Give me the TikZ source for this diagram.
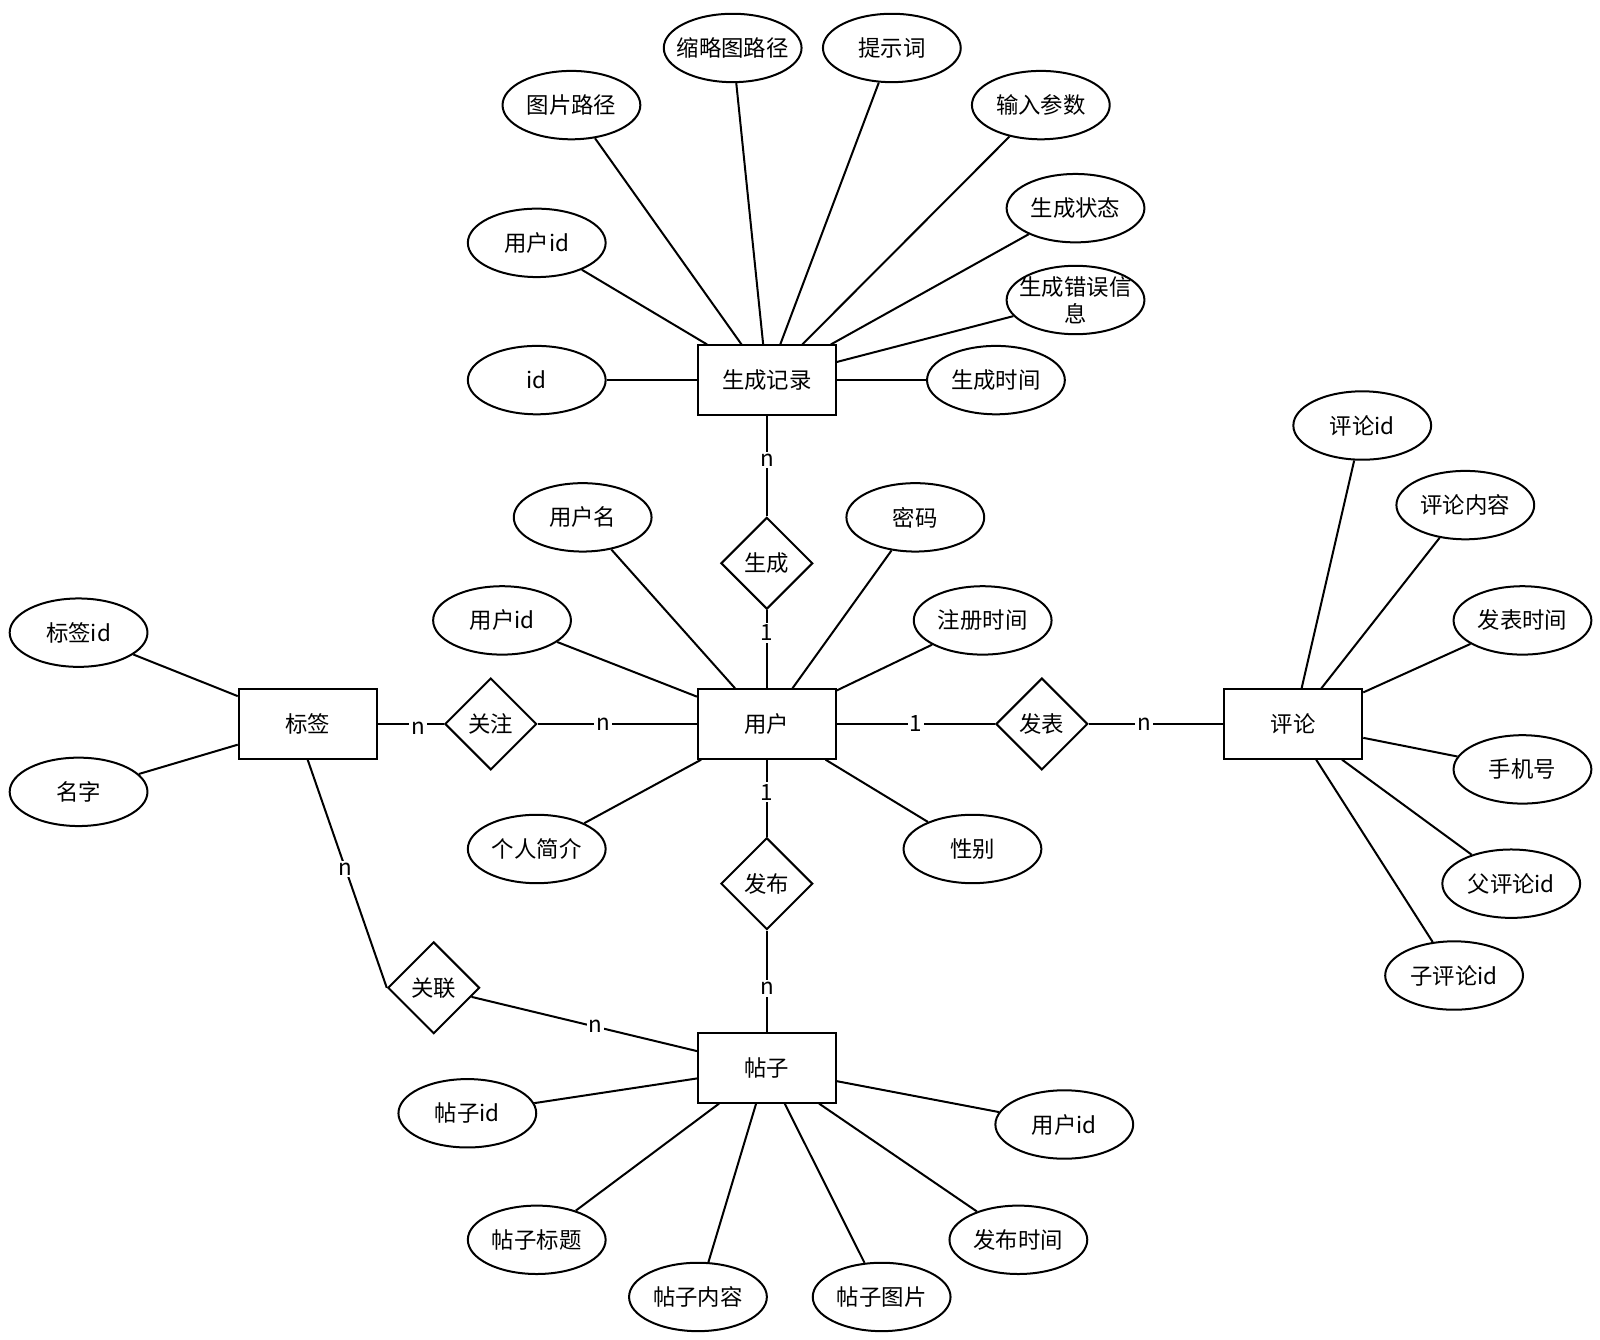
\documentclass[tikz,border=0pt]{standalone}
\usepackage{fontspec}
\setmainfont{Noto Sans CJK SC}
\usetikzlibrary{shapes.geometric}
\begin{document}
\begin{tikzpicture}[x=0.5102pt, y=-0.5102pt,
  every node/.style={font=\fontsize{11.2}{13.4}\selectfont},
  ent/.style={draw, line width=1pt, rectangle, minimum width=68.9pt, minimum height=34.7pt, inner sep=0pt},
  attr/.style={draw, line width=1pt, ellipse, minimum width=68.9pt, minimum height=34.2pt, inner sep=0pt},
  rel/.style={draw, line width=1pt, diamond, minimum width=45.9pt, minimum height=45.9pt, inner sep=0pt},
  conn/.style={line width=1pt},
  card/.style={fill=white, inner sep=1pt}
]
\useasboundingbox (0,0) rectangle (1568,1313);

% entities
\node[ent] (sc) at (751.5,372.5) {生成记录};
\node[ent] (yh) at (751.5,709.5) {用户};
\node[ent] (bq) at (301.5,709.5) {标签};
\node[ent] (pl) at (1267.5,709.5) {评论};
\node[ent] (tz) at (751.5,1046.5) {帖子};

% relationships
\node[rel] (rsc) at (751.5,552) {生成};
\node[rel] (rgz) at (481,709.5) {关注};
\node[rel] (rfb) at (1021,709.5) {发表};
\node[rel] (rfbu) at (751.5,866) {发布};
\node[rel] (rgl) at (425,968) {关联};

% attributes of 生成记录
\node[attr] (a1) at (560,103) {图片路径};
\node[attr] (a2) at (718,47) {\makebox[0pt]{缩略图路径}};
\node[attr] (a3) at (874,47) {提示词};
\node[attr] (a4) at (1020,103) {输入参数};
\node[attr] (a5) at (1054,204) {生成状态};
\node[attr, label={[align=center, inner sep=0pt]center:生成错误信\\息}] (a6) at (1054,294) {};
\node[attr] (a7) at (976,372.5) {生成时间};
\node[attr] (a8) at (526,372.5) {id};
\node[attr] (a9) at (526,238) {用户id};

% attributes of 用户
\node[attr] (b1) at (571,507) {用户名};
\node[attr] (b2) at (897,507) {密码};
\node[attr] (b3) at (492,608) {用户id};
\node[attr] (b4) at (963,608) {注册时间};
\node[attr] (b5) at (526,832) {个人简介};
\node[attr] (b6) at (953,832) {性别};

% attributes of 标签
\node[attr] (c1) at (77,620) {标签id};
\node[attr] (c2) at (77,776) {名字};

% attributes of 评论
\node[attr] (d1) at (1335,417) {评论id};
\node[attr] (d2) at (1436,495) {评论内容};
\node[attr] (d3) at (1492,608) {发表时间};
\node[attr] (d4) at (1492,754) {手机号};
\node[attr] (d5) at (1481,866) {父评论id};
\node[attr] (d6) at (1425,956) {子评论id};

% attributes of 帖子
\node[attr] (e1) at (458,1091) {帖子id};
\node[attr] (e2) at (1043,1102) {用户id};
\node[attr] (e3) at (526,1215) {帖子标题};
\node[attr] (e4) at (684,1271) {帖子内容};
\node[attr] (e5) at (864,1271) {帖子图片};
\node[attr] (e6) at (998,1215) {发布时间};

% attribute connectors
\foreach \a in {a1,a2,a3,a4,a5,a6,a7,a8,a9} \draw[conn] (\a) -- (sc);
\foreach \a in {b1,b2,b3,b4,b5,b6} \draw[conn] (\a) -- (yh);
\foreach \a in {c1,c2} \draw[conn] (\a) -- (bq);
\foreach \a in {d1,d2,d3,d4,d5,d6} \draw[conn] (\a) -- (pl);
\foreach \a in {e1,e2,e3,e4,e5,e6} \draw[conn] (\a) -- (tz);

% relationship connectors
\draw[conn] (sc) -- node[card, pos=0.44] {n} (rsc);
\draw[conn] (rsc) -- node[card, pos=0.29] {1} (yh);
\draw[conn] (yh) -- node[card, pos=0.42] {1} (rfbu);
\draw[conn] (rfbu) -- node[card, pos=0.57] {n} (tz);
\draw[conn] (bq) -- node[card, pos=0.61, yshift=-2pt] {n} (rgz);
\draw[conn] (rgz) -- node[card, pos=0.41] {n} (yh);
\draw[conn] (yh) -- node[card, pos=0.5] {1} (rfb);
\draw[conn] (rfb) -- node[card, pos=0.41] {n} (pl);
\draw[conn] (bq.south) -- node[card, pos=0.48] {n} (rgl.west);
\draw[conn] (rgl) -- node[card, pos=0.55] {n} (tz);
\end{tikzpicture}
\end{document}
